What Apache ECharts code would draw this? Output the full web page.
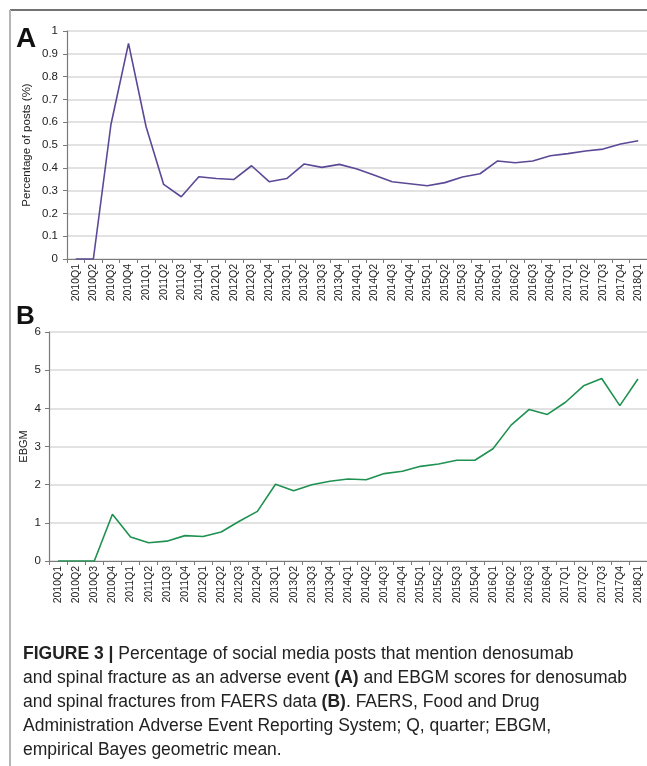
<!DOCTYPE html>
<html>
<head>
<meta charset="utf-8">
<script src="https://cdn.jsdelivr.net/npm/echarts@6/dist/echarts.min.js"></script>
<style>
  html, body { margin: 0; padding: 0; background: #fff; }
  #chart { width: 647px; height: 766px; }
</style>
</head>
<body>
<div id="chart"></div>
<script>
// Quarters shared by both panels
const quarters = [
  '2010Q1','2010Q2','2010Q3','2010Q4',
  '2011Q1','2011Q2','2011Q3','2011Q4',
  '2012Q1','2012Q2','2012Q3','2012Q4',
  '2013Q1','2013Q2','2013Q3','2013Q4',
  '2014Q1','2014Q2','2014Q3','2014Q4',
  '2015Q1','2015Q2','2015Q3','2015Q4',
  '2016Q1','2016Q2','2016Q3','2016Q4',
  '2017Q1','2017Q2','2017Q3','2017Q4',
  '2018Q1'
];

// Panel A: percentage of social media posts (%)
const postShare = [
  0, 0, 0.59, 0.946,
  0.58, 0.327, 0.273, 0.361,
  0.353, 0.349, 0.409, 0.339,
  0.353, 0.417, 0.402, 0.415,
  0.395, 0.367, 0.339, 0.330,
  0.321, 0.335, 0.360, 0.374,
  0.430, 0.422, 0.430, 0.453,
  0.462, 0.474, 0.482, 0.504,
  0.519
];

// Panel B: EBGM scores from FAERS
const ebgm = [
  0, 0, 0, 1.226,
  0.63, 0.48, 0.52, 0.665,
  0.64, 0.76, 1.04, 1.30,
  2.01, 1.84, 2.0, 2.09,
  2.15, 2.13, 2.29, 2.35,
  2.48, 2.54, 2.64, 2.64,
  2.94, 3.56, 3.97, 3.84,
  4.16, 4.59, 4.78, 4.07,
  4.77
];

const yTicksA = { min: 0, max: 1, interval: 0.1 };
const yTicksB = { min: 0, max: 6, interval: 1 };

const captionLines = [
  '{b|FIGURE 3 |} Percentage of social media posts that mention denosumab',
  'and spinal fracture as an adverse event {b|(A)} and EBGM scores for denosumab',
  'and spinal fractures from FAERS data {b|(B)}. FAERS, Food and Drug',
  'Administration Adverse Event Reporting System; Q, quarter; EBGM,',
  'empirical Bayes geometric mean.'
];

const FONT = '"Liberation Sans", Arial, Helvetica, sans-serif';
const CAPTION_SIZE = 17.5;
const gridColor = '#d9d9d9';
const axisColor = '#7a7a7a';
const textColor = '#222';

function xAxisFor(gridIndex) {
  return {
    type: 'category',
    gridIndex: gridIndex,
    data: quarters,
    boundaryGap: true,
    axisLine: { show: true, lineStyle: { color: axisColor, width: 1.2 } },
    axisTick: { show: true, interval: 0, length: 4, lineStyle: { color: axisColor } },
    axisLabel: {
      interval: 0, rotate: 90, margin: 5,
      fontFamily: FONT, fontSize: 10.5, color: textColor
    },
    splitLine: { show: false }
  };
}

function yAxisFor(gridIndex, ticks, name, nameGap, nameSize, margin) {
  return {
    type: 'value',
    gridIndex: gridIndex,
    min: ticks.min, max: ticks.max, interval: ticks.interval,
    name: name,
    nameLocation: 'middle',
    nameGap: nameGap,
    nameMoveOverlap: false,
    nameTextStyle: { fontFamily: FONT, fontSize: nameSize, color: textColor },
    axisLine: { show: true, lineStyle: { color: axisColor, width: 1.2 } },
    axisTick: { show: true, length: 4, lineStyle: { color: axisColor } },
    axisLabel: { margin: margin, fontFamily: FONT, fontSize: 11.5, color: textColor },
    splitLine: { show: true, lineStyle: { color: gridColor, width: 1.5 } }
  };
}

const captionGraphics = captionLines.map((line, i) => ({
  type: 'text',
  left: 23,
  top: 645 + i * 24,
  style: {
    text: line,
    font: CAPTION_SIZE + 'px ' + FONT,
    fill: textColor,
    rich: {
      b: { fontFamily: FONT, fontSize: CAPTION_SIZE, fontWeight: 'bold', fill: textColor }
    }
  }
}));

const chart = echarts.init(document.getElementById('chart'), null, { renderer: 'canvas' });

chart.setOption({
  backgroundColor: '#fff',
  animation: false,
  grid: [
    { left: 67, top: 31, width: 585, height: 228 },
    { left: 49, top: 332, width: 602, height: 229 }
  ],
  xAxis: [xAxisFor(0), xAxisFor(1)],
  yAxis: [
    yAxisFor(0, yTicksA, 'Percentage of posts (%)', 34, 11.5, 9),
    yAxisFor(1, yTicksB, 'EBGM', 20, 11, 8)
  ],
  series: [
    {
      type: 'line', xAxisIndex: 0, yAxisIndex: 0,
      data: postShare, symbol: 'none',
      lineStyle: { color: '#5b4896', width: 1.6 }
    },
    {
      type: 'line', xAxisIndex: 1, yAxisIndex: 1,
      data: ebgm, symbol: 'none',
      lineStyle: { color: '#1f9150', width: 1.6 }
    }
  ],
  graphic: [
    // panel frame
    { type: 'line', shape: { x1: 10, y1: 10, x2: 647, y2: 10 }, style: { stroke: '#444', lineWidth: 1.5 } },
    { type: 'line', shape: { x1: 10, y1: 10, x2: 10, y2: 766 }, style: { stroke: '#b5b5b5', lineWidth: 2 } },
    // panel letters
    { type: 'text', left: 16, top: 25, style: { text: 'A', font: 'bold 28px ' + FONT, fill: '#111' } },
    { type: 'text', left: 16, top: 304, style: { text: 'B', font: 'bold 26px ' + FONT, fill: '#111' } }
  ].concat(captionGraphics)
});
</script>
</body>
</html>
